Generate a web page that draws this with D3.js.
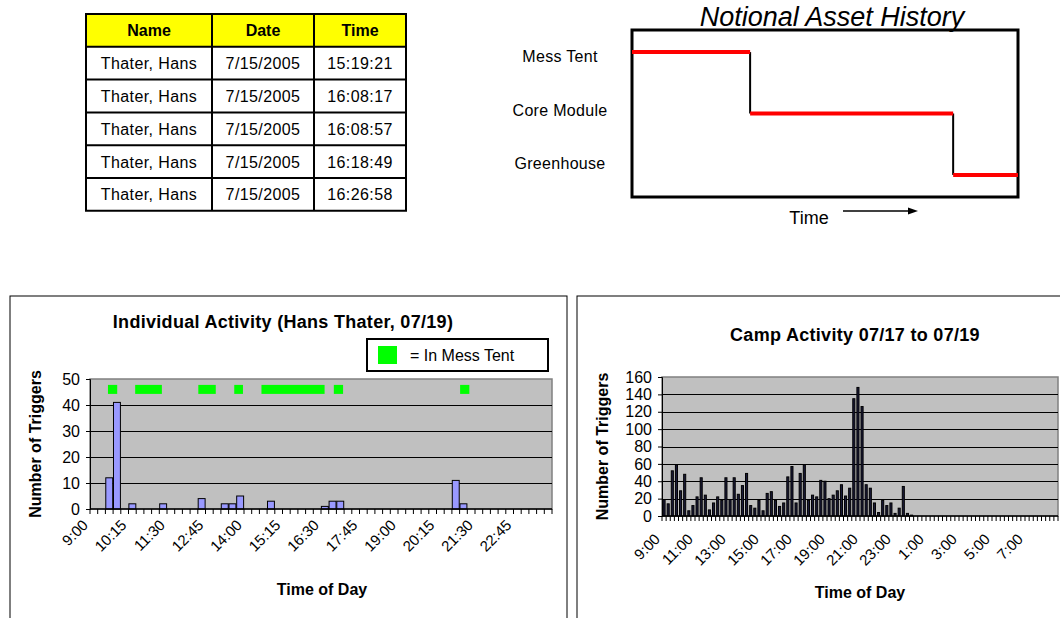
<!DOCTYPE html>
<html><head><meta charset="utf-8">
<script src="https://cdn.jsdelivr.net/npm/d3@7"></script>
<style>
body{margin:0;background:#fff;}
svg{display:block;font-family:Arial,"Liberation Sans",sans-serif;}
</style>
</head><body>
<svg id="c" width="1060" height="618"></svg>
<script>
// ---------- DATA ----------
const tableColumns = ["Name", "Date", "Time"];
const tableNames = ["Thater, Hans", "Thater, Hans", "Thater, Hans", "Thater, Hans", "Thater, Hans"];
const tableDates = ["7/15/2005", "7/15/2005", "7/15/2005", "7/15/2005", "7/15/2005"];
const tableTimes = ["15:19:21", "16:08:17", "16:08:57", "16:18:49", "16:26:58"];

const assetLevels = ["Mess Tent", "Core Module", "Greenhouse"];
const assetStepStart = [0, 0.306, 0.832];
const assetStepEnd = [0.306, 0.832, 1];

const individualBinCount = 60; // 15-minute bins from 9:00
const individualTickLabels = ["9:00", "10:15", "11:30", "12:45", "14:00", "15:15", "16:30", "17:45", "19:00", "20:15", "21:30", "22:45"];
const individualTriggers = [
  0, 0, 12, 41, 0, 2, 0, 0, 0, 2,
  0, 0, 0, 0, 4, 0, 0, 2, 2, 5,
  0, 0, 0, 3, 0, 0, 0, 0, 0, 0,
  1, 3, 3, 0, 0, 0, 0, 0, 0, 0,
  0, 0, 0, 0, 0, 0, 0, 11, 2, 0,
  0, 0, 0, 0, 0, 0, 0, 0, 0, 0
];
const individualYTicks = [0, 10, 20, 30, 40, 50];
const messTentStart = ["9:35", "10:28", "12:31", "13:41", "14:34", "16:55", "21:01"];
const messTentEnd = ["9:53", "11:20", "13:05", "13:58", "16:37", "17:13", "21:19"];
const messTentLevel = 46;

const campBinCount = 96; // 15-minute bins from 9:00 to 8:45 next day
const campTickLabels = ["9:00", "11:00", "13:00", "15:00", "17:00", "19:00", "21:00", "23:00", "1:00", "3:00", "5:00", "7:00"];
const campTriggers = [
  19, 14, 52, 59, 29, 48, 6, 12, 22, 44,
  24, 7, 15, 22, 18, 44, 19, 44, 25, 35,
  49, 12, 9, 18, 6, 26, 28, 18, 11, 15,
  45, 57, 15, 49, 59, 18, 24, 22, 41, 40,
  20, 24, 29, 36, 23, 32, 135, 148, 126, 36,
  32, 15, 4, 18, 12, 15, 3, 9, 34, 3,
  1, 0, 0, 0, 0, 0, 0, 0, 0, 0,
  0, 0, 0, 0, 0, 0, 0, 0, 0, 0,
  0, 0, 0, 0, 0, 0, 0, 0, 0, 0,
  0, 0, 0, 0, 0, 0
];
const campYTicks = [0, 20, 40, 60, 80, 100, 120, 140, 160];

// ---------- DRAW ----------
const svg = d3.select("#c");
const FONT = 'Arial,"Liberation Sans",sans-serif';

// ----- Table -----
(function () {
  const colX = [86, 212, 314, 406];
  const rowY = d3.range(7).map(i => 14 + i * 32.8);
  const g = svg.append("g");
  const rows = [tableColumns].concat(tableNames.map((n, i) => [n, tableDates[i], tableTimes[i]]));
  g.append("rect").attr("x", colX[0]).attr("y", rowY[0]).attr("width", colX[3] - colX[0])
    .attr("height", rowY[1] - rowY[0]).attr("fill", "#FFFF00");
  rows.forEach((r, ri) => {
    r.forEach((txt, ci) => {
      g.append("text").attr("x", (colX[ci] + colX[ci + 1]) / 2).attr("y", (rowY[ri] + rowY[ri + 1]) / 2 + 6)
        .attr("text-anchor", "middle").attr("font-size", 16).attr("letter-spacing", ri === 0 ? 0 : 0.4)
        .attr("font-weight", ri === 0 ? "bold" : "normal").attr("fill", "#000").text(txt);
    });
  });
  rowY.forEach(y => g.append("line").attr("x1", colX[0] - 1).attr("x2", colX[3] + 1).attr("y1", y).attr("y2", y)
    .attr("stroke", "#000").attr("stroke-width", 2));
  colX.forEach(x => g.append("line").attr("x1", x).attr("x2", x).attr("y1", rowY[0]).attr("y2", rowY[6])
    .attr("stroke", "#000").attr("stroke-width", 2));
})();

// ----- Notional Asset History -----
(function () {
  const box = {x0: 632, x1: 1018, y0: 30, y1: 197};
  const x = d3.scaleLinear().domain([0, 1]).range([box.x0, box.x1]);
  const y = d3.scalePoint().domain(assetLevels).range([box.y0, box.y1]).padding(0.36);
  const labelY = d3.scalePoint().domain(assetLevels).range([56, 163]);
  const g = svg.append("g");
  g.append("text").attr("x", 832).attr("y", 26).attr("text-anchor", "middle")
    .attr("font-size", 27).attr("font-style", "italic").text("Notional Asset History");
  g.append("rect").attr("x", box.x0).attr("y", box.y0).attr("width", box.x1 - box.x0).attr("height", box.y1 - box.y0)
    .attr("fill", "none").attr("stroke", "#000").attr("stroke-width", 3);
  assetLevels.forEach(l => g.append("text").attr("x", 560).attr("y", labelY(l) + 6).attr("text-anchor", "middle")
    .attr("font-size", 16).attr("letter-spacing", 0.3).text(l));
  // vertical connectors
  for (let i = 1; i < assetLevels.length; i++) {
    g.append("line").attr("x1", x(assetStepStart[i])).attr("x2", x(assetStepStart[i]))
      .attr("y1", y(assetLevels[i - 1])).attr("y2", y(assetLevels[i]))
      .attr("stroke", "#000").attr("stroke-width", 2);
  }
  assetLevels.forEach((l, i) => g.append("line").attr("x1", x(assetStepStart[i])).attr("x2", x(assetStepEnd[i]))
    .attr("y1", y(l)).attr("y2", y(l)).attr("stroke", "#FF0000").attr("stroke-width", 4));
  g.append("text").attr("x", 809).attr("y", 224).attr("text-anchor", "middle").attr("font-size", 18).text("Time");
  g.append("line").attr("x1", 843).attr("x2", 912).attr("y1", 211).attr("y2", 211).attr("stroke", "#000").attr("stroke-width", 1.5);
  g.append("path").attr("d", "M918,211 L908,207.5 L908,214.5 Z").attr("fill", "#000");
})();

// ----- generic bar panel -----
function barPanel(opt) {
  const g = svg.append("g");
  g.append("rect").attr("x", opt.panel[0]).attr("y", opt.panel[1]).attr("width", opt.panel[2]).attr("height", opt.panel[3])
    .attr("fill", "#fff").attr("stroke", "#000").attr("stroke-width", 1);
  const p = opt.plot;
  const x = d3.scaleBand().domain(d3.range(opt.n)).range([p.x0, p.x1]).paddingInner(0).paddingOuter(0);
  const y = d3.scaleLinear().domain([0, opt.yMax]).range([p.y1, p.y0]);
  g.append("rect").attr("x", p.x0).attr("y", p.y0).attr("width", p.x1 - p.x0).attr("height", p.y1 - p.y0)
    .attr("fill", "#C0C0C0").attr("stroke", "#808080").attr("stroke-width", 1.5);
  // gridlines
  g.selectAll(".grid").data(opt.yTicks.filter(t => t > 0 && t < opt.yMax)).join("line")
    .attr("x1", p.x0).attr("x2", p.x1).attr("y1", d => Math.round(y(d)) + 0.5).attr("y2", d => Math.round(y(d)) + 0.5)
    .attr("stroke", "#000").attr("stroke-width", 1);
  // y axis
  const ya = g.append("g").attr("transform", `translate(${p.x0},0)`)
    .call(d3.axisLeft(y).tickValues(opt.yTicks).tickSize(4).tickPadding(6));
  ya.select(".domain").attr("stroke", "#000");
  ya.selectAll("text").attr("font-size", 16).attr("font-family", FONT).attr("fill", "#000");
  // bars
  const bw = x.bandwidth();
  g.selectAll(".bar").data(opt.values.map((v, i) => ({v, i})).filter(d => d.v > 0)).join("rect")
    .attr("x", d => x(d.i) + (bw - bw * opt.barFrac) / 2).attr("width", bw * opt.barFrac)
    .attr("y", d => y(d.v)).attr("height", d => y(0) - y(d.v))
    .attr("fill", opt.barFill).attr("stroke", "#000").attr("stroke-width", 1);
  // x axis line and ticks
  g.append("line").attr("x1", p.x0).attr("x2", p.x1).attr("y1", p.y1).attr("y2", p.y1).attr("stroke", "#000").attr("stroke-width", 1.5);
  g.selectAll(".xt").data(d3.range(opt.n + 1)).join("line")
    .attr("x1", i => i < opt.n ? x(i) : p.x1).attr("x2", i => i < opt.n ? x(i) : p.x1)
    .attr("y1", p.y1).attr("y2", p.y1 + 5).attr("stroke", "#000").attr("stroke-width", 1);
  // x labels
  opt.tickLabels.forEach((lab, k) => {
    const xi = x(k * opt.labelEvery) - 1;
    const yi = p.y1 + opt.labelDy;
    g.append("text").attr("transform", `translate(${xi},${yi}) rotate(-45)`)
      .attr("text-anchor", "end").attr("font-size", 15).attr("fill", "#000").text(lab);
  });
  // titles
  g.append("text").attr("x", opt.titleX).attr("y", opt.titleY).attr("text-anchor", "middle")
    .attr("font-size", 18).attr("letter-spacing", 0.3).attr("font-weight", "bold").text(opt.title);
  g.append("text").attr("transform", `translate(${opt.yLabelX},${(p.y0 + p.y1) / 2}) rotate(-90)`)
    .attr("text-anchor", "middle").attr("font-size", 16).attr("font-weight", "bold").text("Number of Triggers");
  g.append("text").attr("x", opt.xLabelX).attr("y", opt.xLabelY).attr("text-anchor", "middle")
    .attr("font-size", 16).attr("font-weight", "bold").text("Time of Day");
  return {g, x, y};
}

// ----- Individual Activity -----
const ind = barPanel({
  panel: [10, 296, 557, 330],
  plot: {x0: 90, x1: 552, y0: 379, y1: 509},
  n: individualBinCount, yMax: 50, yTicks: individualYTicks, values: individualTriggers,
  barFrac: 0.9, barFill: "#9999FF", tickLabels: individualTickLabels, labelEvery: 5, labelDy: 17,
  title: "Individual Activity (Hans Thater, 07/19)", titleX: 283, titleY: 328,
  yLabelX: 41, xLabelX: 322, xLabelY: 595
});
(function () {
  const toHours = s => { const [h, m] = s.split(":").map(Number); return h + m / 60; };
  const t = d3.scaleLinear().domain([9, 9 + individualBinCount / 4]).range([90, 552]);
  ind.g.selectAll(".mess").data(messTentStart.map((s, i) => [toHours(s), toHours(messTentEnd[i])])).join("rect")
    .attr("x", d => t(d[0])).attr("width", d => t(d[1]) - t(d[0]))
    .attr("y", ind.y(messTentLevel) - 4.5).attr("height", 9).attr("fill", "#00FF00");
  // legend
  ind.g.append("rect").attr("x", 367).attr("y", 339).attr("width", 181).attr("height", 32)
    .attr("fill", "#fff").attr("stroke", "#000").attr("stroke-width", 2);
  ind.g.append("rect").attr("x", 378).attr("y", 346).attr("width", 19).attr("height", 18).attr("fill", "#00FF00");
  ind.g.append("text").attr("x", 410).attr("y", 361).attr("font-size", 16).text("= In Mess Tent");
})();

// ----- Camp Activity -----
barPanel({
  panel: [577, 296, 490, 330],
  plot: {x0: 662, x1: 1058, y0: 377, y1: 516},
  n: campBinCount, yMax: 160, yTicks: campYTicks, values: campTriggers,
  barFrac: 0.5, barFill: "#1a1a3a", tickLabels: campTickLabels, labelEvery: 8, labelDy: 24,
  title: "Camp Activity 07/17 to 07/19", titleX: 855, titleY: 341,
  yLabelX: 608, xLabelX: 860, xLabelY: 598
});
</script>
</body></html>
